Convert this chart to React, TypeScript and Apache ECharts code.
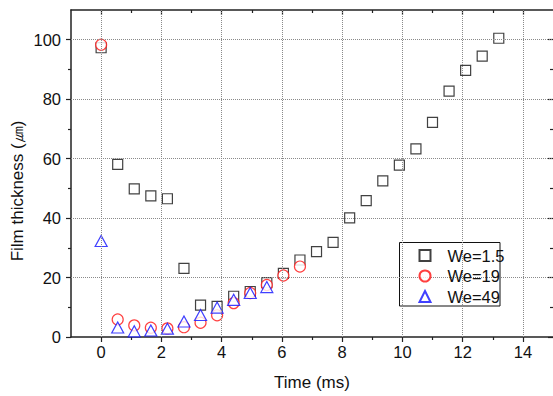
import React, { useEffect, useRef } from "react";
import * as echarts from "echarts";

const FONT = "'Liberation Sans', Arial, sans-serif";

// We = 1.5 (black squares)
const squareTime = [0, 0.55, 1.1, 1.65, 2.2, 2.75, 3.3, 3.85, 4.4, 4.95, 5.5, 6.05, 6.6, 7.15, 7.7, 8.25, 8.8, 9.35, 9.9, 10.45, 11.0, 11.55, 12.1, 12.65, 13.2];
const squareThick = [97.3, 58.1, 49.8, 47.5, 46.5, 23.1, 10.7, 10.3, 13.7, 15.3, 18.3, 21.4, 25.9, 28.7, 31.8, 40.1, 45.9, 52.5, 57.8, 63.3, 72.2, 82.7, 89.7, 94.5, 100.5];

// We = 19 (red circles)
const circleTime = [0, 0.55, 1.1, 1.65, 2.2, 2.75, 3.3, 3.85, 4.4, 4.95, 5.5, 6.05, 6.6];
const circleThick = [98.3, 5.9, 3.9, 3.1, 2.9, 3.3, 4.8, 7.3, 11.4, 14.8, 17.5, 20.7, 23.7];

// We = 49 (blue triangles)
const triTime = [0, 0.55, 1.1, 1.65, 2.2, 2.75, 3.3, 3.85, 4.4, 4.95, 5.5];
const triThick = [32.3, 3.2, 1.9, 2.2, 2.8, 5.2, 7.4, 9.9, 12.5, 14.8, 16.8];

const seriesNames = ["We=1.5", "We=19", "We=49"];

const xMajor = [0, 2, 4, 6, 8, 10, 12, 14];
const xMinor = [1, 3, 5, 7, 9, 11, 13];
const yMajor = [0, 20, 40, 60, 80, 100];
const yMinor = [10, 30, 50, 70, 90];
const yGrid = [20, 40, 60, 80, 100];

const xTitle = "Time (ms)";
const yTitle = "Film thickness (㎛)";

const AXIS_COLOR = "#222";
const GRID_STYLE = { color: "#8a8a8a", width: 1, type: "dotted" };

function zip(xs: number[], ys: number[]) {
  return xs.map((x, i) => [x, ys[i]]);
}

export default function App() {
  const ref = useRef<HTMLDivElement>(null);

  useEffect(() => {
    if (!ref.current) return;
    const chart = echarts.init(ref.current, null, { renderer: "svg" });

    const grid = { left: 71, width: 483, top: 10, bottom: 56.5, containLabel: false };

    const baseX = { type: "value", min: -1, max: 15, gridIndex: 0 };
    const baseY = { type: "value", min: 0, max: 110, interval: 10, gridIndex: 0 };
    const hidden = {
      axisLine: { show: false, onZero: false },
      axisLabel: { show: false },
      splitLine: { show: false },
      splitArea: { show: false },
    };
    const tickLine = { color: AXIS_COLOR, width: 1.2 };
    const axisLine = { show: true, onZero: false, lineStyle: { color: AXIS_COLOR, width: 1.5 } };

    const option: any = {
      animation: false,
      backgroundColor: "#fff",
      grid,
      xAxis: [
        {
          ...baseX,
          position: "bottom",
          name: xTitle,
          nameLocation: "middle",
          nameGap: 37,
          nameTextStyle: { fontFamily: FONT, fontSize: 17, color: "#111" },
          axisLine,
          axisTick: { show: true, inside: false, length: 5, customValues: xMajor, lineStyle: tickLine },
          axisLabel: { show: true, customValues: xMajor, fontFamily: FONT, fontSize: 16.5, color: "#111", margin: 6 },
          splitLine: { show: false },
        },
        {
          ...baseX,
          position: "bottom",
          ...hidden,
          axisTick: { show: true, inside: false, length: 3, customValues: xMinor, lineStyle: tickLine },
        },
        {
          ...baseX,
          position: "top",
          axisLine,
          axisTick: { show: true, inside: true, length: 5, customValues: xMajor, lineStyle: tickLine },
          axisLabel: { show: false },
          splitLine: { show: false },
        },
        {
          ...baseX,
          position: "top",
          ...hidden,
          axisTick: { show: true, inside: true, length: 3, customValues: xMinor, lineStyle: tickLine },
        },
      ],
      yAxis: [
        {
          ...baseY,
          position: "left",
          axisLine,
          axisTick: { show: true, inside: false, length: 5, customValues: yMajor, lineStyle: tickLine },
          axisLabel: { show: true, customValues: yMajor, fontFamily: FONT, fontSize: 16.5, color: "#111", margin: 10 },
          splitLine: { show: false },
        },
        {
          ...baseY,
          position: "left",
          ...hidden,
          axisTick: { show: true, inside: false, length: 3, customValues: yMinor, lineStyle: tickLine },
        },
        {
          ...baseY,
          position: "right",
          ...hidden,
          axisTick: { show: true, inside: true, length: 5, customValues: yMajor, lineStyle: tickLine },
        },
        {
          ...baseY,
          position: "right",
          ...hidden,
          axisTick: { show: true, inside: true, length: 3, customValues: yMinor, lineStyle: tickLine },
        },
      ],
      legend: {
        show: true,
        orient: "vertical",
        left: 418.5,
        top: 247,
        padding: 0,
        itemGap: 3.5,
        itemWidth: 11,
        itemHeight: 11,
        z: 10,
        data: seriesNames,
        textStyle: { fontFamily: FONT, fontSize: 16.5, color: "#111", lineHeight: 16.5, padding: [0, 0, 0, 12] },
      },
      graphic: [
        {
          type: "rect",
          z: 3,
          shape: { x: 399.5, y: 242.5, width: 100.5, height: 63.5 },
          style: { fill: "#fff", stroke: "#111", lineWidth: 1 },
        },
        {
          type: "text",
          x: 17,
          y: 191,
          rotation: Math.PI / 2,
          style: {
            text: yTitle,
            fontFamily: FONT,
            fontSize: 17,
            fill: "#111",
            align: "center",
            verticalAlign: "middle",
          },
        },
      ],
      series: [
        {
          name: "grid",
          type: "scatter",
          data: [],
          z: 1,
          silent: true,
          markLine: {
            silent: true,
            symbol: ["none", "none"],
            label: { show: false },
            lineStyle: GRID_STYLE,
            emphasis: { disabled: true },
            data: [
              ...xMajor.map((v) => ({ xAxis: v })),
              ...yGrid.map((v) => ({ yAxis: v })),
            ],
          },
        },
        {
          name: seriesNames[0],
          type: "scatter",
          symbol: "rect",
          symbolSize: 10,
          z: 2,
          data: zip(squareTime, squareThick),
          itemStyle: { color: "#fff", borderColor: "#111", borderWidth: 1.2 },
        },
        {
          name: seriesNames[1],
          type: "scatter",
          symbol: "circle",
          symbolSize: 11,
          z: 3,
          data: zip(circleTime, circleThick),
          itemStyle: { color: "#fff", borderColor: "#ff1010", borderWidth: 1.2 },
        },
        {
          name: seriesNames[2],
          type: "scatter",
          symbol: "triangle",
          symbolSize: [12, 11],
          z: 4,
          data: zip(triTime, triThick),
          itemStyle: { color: "#fff", borderColor: "#1010ff", borderWidth: 1.2 },
        },
      ],
    };

    chart.setOption(option);
    return () => chart.dispose();
  }, []);

  return <div ref={ref} style={{ width: 553, height: 396, position: "absolute", left: 0, top: 0 }} />;
}
